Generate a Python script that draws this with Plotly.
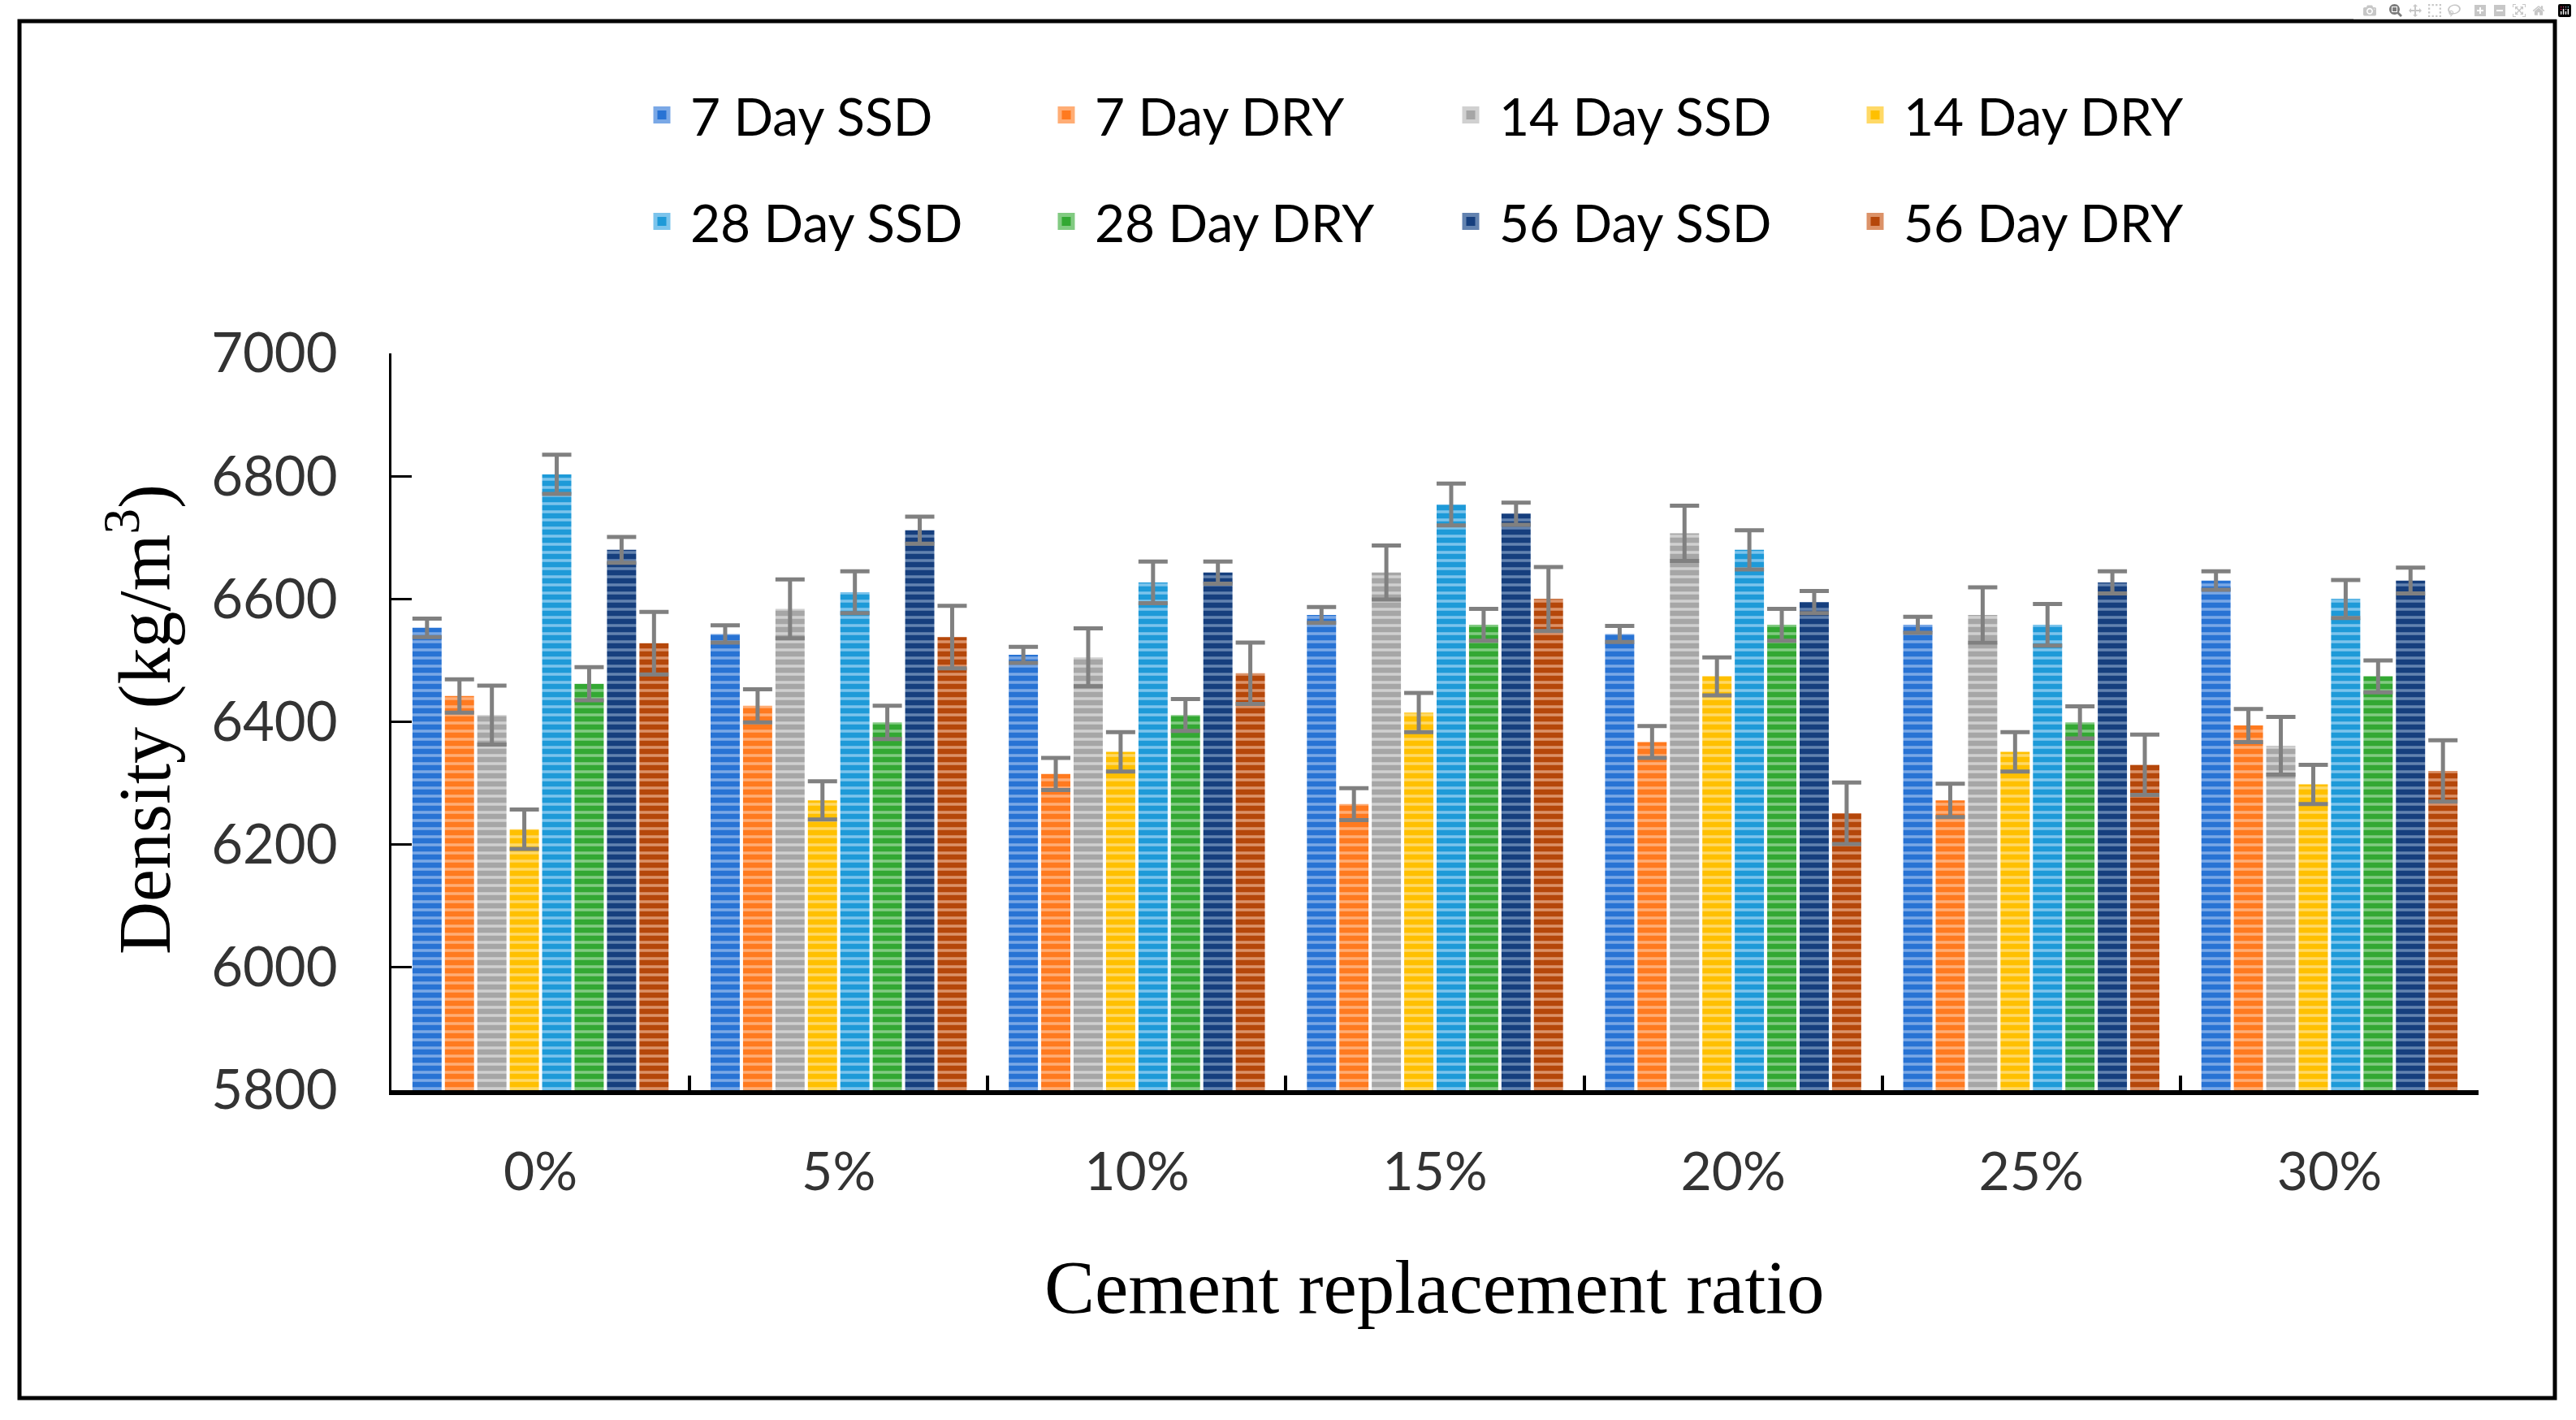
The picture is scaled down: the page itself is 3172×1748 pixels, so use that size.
import plotly.graph_objects as go

categories = ["0%", "5%", "10%", "15%", "20%", "25%", "30%"]
series_names = ["7 Day SSD", "7 Day DRY", "14 Day SSD", "14 Day DRY",
                "28 Day SSD", "28 Day DRY", "56 Day SSD", "56 Day DRY"]

ssd7 = [6553, 6543, 6509, 6574, 6543, 6558, 6630]
dry7 = [6442, 6426, 6315, 6266, 6367, 6272, 6394]
ssd14 = [6411, 6584, 6505, 6643, 6707, 6574, 6361]
dry14 = [6225, 6272, 6351, 6415, 6474, 6351, 6298]
ssd28 = [6803, 6611, 6627, 6754, 6680, 6558, 6600]
dry28 = [6462, 6399, 6411, 6558, 6558, 6399, 6474]
ssd56 = [6680, 6712, 6643, 6739, 6595, 6627, 6630]
dry56 = [6528, 6538, 6479, 6600, 6251, 6330, 6320]

err_ssd7 = [15, 14, 13, 13, 13, 13, 15]
err_dry7 = [27, 27, 26, 26, 26, 27, 27]
err_ssd14 = [48, 48, 47, 44, 45, 45, 47]
err_dry14 = [32, 31, 32, 32, 31, 32, 32]
err_ssd28 = [32, 34, 34, 34, 32, 34, 31]
err_dry28 = [27, 27, 26, 26, 26, 26, 26]
err_ssd56 = [21, 22, 18, 18, 18, 18, 21]
err_dry56 = [51, 51, 50, 52, 50, 49, 50]

values = [ssd7, dry7, ssd14, dry14, ssd28, dry28, ssd56, dry56]
errors = [err_ssd7, err_dry7, err_ssd14, err_dry14, err_ssd28, err_dry28, err_ssd56, err_dry56]

base_colors = ["#2873D4", "#FF7A1F", "#A6A6A6", "#FFC000",
               "#1E9AD8", "#33A833", "#163F7E", "#B5470A"]
light_colors = ["#7AA8E6", "#FFAD75", "#D0D0D0", "#FFD966",
                "#7CC4EC", "#82CB82", "#6383B0", "#DC9268"]

W, H = 3172, 1748
L, R, T, B = 482, 3052, 435, 1342  # plot area pixel bounds


def px2x(p):
    return (p - L) / (R - L)


def py2y(p):
    return (B - p) / (B - T)


fig = go.Figure()
for i, name in enumerate(series_names):
    fig.add_trace(go.Bar(
        name=name,
        x=categories,
        y=values[i],
        showlegend=False,
        marker=dict(
            color=base_colors[i],
            line=dict(width=0),
            pattern=dict(shape="-", fgcolor=light_colors[i], bgcolor=base_colors[i],
                         size=10, solidity=0.35, fillmode="replace"),
        ),
        error_y=dict(type="data", array=errors[i], visible=True,
                     color="#808080", thickness=5, width=18),
    ))

# legend entries (square swatches)
for i, name in enumerate(series_names):
    fig.add_trace(go.Scatter(
        name=name,
        x=[categories[0]],
        y=[None],
        mode="markers",
        legend="legend" if i < 4 else "legend2",
        marker=dict(symbol="square", size=16, color=base_colors[i],
                    line=dict(color=light_colors[i], width=5)),
        hoverinfo="skip",
    ))

legend_common = dict(
    orientation="h",
    xanchor="left",
    yanchor="middle",
    entrywidth=423,
    entrywidthmode="pixels",
    itemwidth=60,
    font=dict(family="Lato", size=64, color="#000000"),
    bgcolor="rgba(0,0,0,0)",
    itemclick=False,
    itemdoubleclick=False,
)

fig.update_layout(
    width=W, height=H,
    margin=dict(l=L, r=W - R, t=T, b=H - B),
    paper_bgcolor="white",
    plot_bgcolor="white",
    barmode="group",
    bargap=0.13,
    bargroupgap=0.1,
    showlegend=True,
    legend=dict(x=px2x(780), y=py2y(142), **legend_common),
    legend2=dict(x=px2x(780), y=py2y(273), **legend_common),
    xaxis=dict(
        type="category",
        showline=True, linecolor="#000000", linewidth=6,
        ticks="inside", tickson="boundaries", ticklen=18, tickwidth=4, tickcolor="#000000",
        tickfont=dict(family="Lato", size=66, color="#333333"),
        ticklabelstandoff=38,
        showgrid=False, zeroline=False,
    ),
    yaxis=dict(
        range=[5800, 7000],
        tickvals=[5800, 6000, 6200, 6400, 6600, 6800, 7000],
        showline=True, linecolor="#000000", linewidth=3,
        ticks="inside", ticklen=25, tickwidth=3, tickcolor="#000000",
        tickfont=dict(family="Lato", size=67, color="#333333"),
        ticklabelstandoff=50,
        showgrid=False, zeroline=False,
    ),
    annotations=[
        dict(text="Density (kg/m<sup>3</sup>)", xref="paper", yref="paper",
             x=px2x(172), y=py2y(886), xanchor="center", yanchor="middle",
             textangle=-90, showarrow=False,
             font=dict(family="Liberation Serif", size=90, color="#000000")),
        dict(text="Cement replacement ratio", xref="paper", yref="paper",
             x=px2x(1766), y=py2y(1584), xanchor="center", yanchor="middle",
             showarrow=False,
             font=dict(family="Liberation Serif", size=93, color="#000000")),
    ],
    shapes=[
        dict(type="rect", xref="paper", yref="paper",
             x0=px2x(24), x1=px2x(3146), y0=py2y(1721), y1=py2y(26),
             line=dict(color="#000000", width=5), fillcolor="rgba(0,0,0,0)", layer="above"),
    ],
)

fig.write_html("out.html", post_script="document.body.style.margin='0';document.body.style.overflow='hidden';")
